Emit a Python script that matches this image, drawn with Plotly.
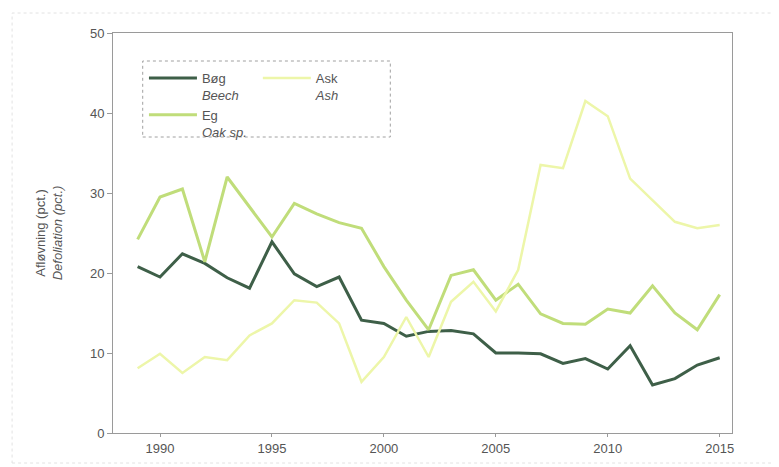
import plotly.graph_objects as go

years = list(range(1989, 2016))

bog = [20.8, 19.5, 22.4, 21.2, 19.4, 18.1, 23.9, 19.9, 18.3, 19.5, 14.1, 13.7, 12.1, 12.7,
       12.8, 12.4, 10.0, 10.0, 9.9, 8.7, 9.3, 8.0, 10.9, 6.0, 6.8, 8.5, 9.4]
eg = [24.2, 29.5, 30.5, 21.4, 32.0, 28.3, 24.5, 28.7, 27.4, 26.3, 25.6, 20.8, 16.6, 12.9,
      19.7, 20.4, 16.6, 18.6, 14.9, 13.7, 13.6, 15.5, 15.0, 18.4, 15.0, 12.9, 17.3]
ask = [8.1, 9.9, 7.5, 9.5, 9.1, 12.2, 13.7, 16.6, 16.3, 13.7, 6.4, 9.5, 14.5, 9.5,
       16.4, 18.9, 15.2, 20.4, 33.5, 33.1, 41.5, 39.6, 31.8, 29.1, 26.4, 25.6, 26.0]
aer = []  # no line drawn for Ær

x_ticks = [1990, 1995, 2000, 2005, 2010, 2015]
y_ticks = [0, 10, 20, 30, 40, 50]

font = "Liberation Sans, Arial, sans-serif"
grey = "#555555"

fig = go.Figure()
fig.add_trace(go.Scatter(x=years, y=bog, mode="lines", name="Bøg<br><i>Beech</i>",
                         line=dict(color="#3e5f48", width=3), legend="legend"))
fig.add_trace(go.Scatter(x=years, y=eg, mode="lines", name="Eg<br><i>Oak sp.</i>",
                         line=dict(color="#c0dd7a", width=3), legend="legend"))
fig.add_trace(go.Scatter(x=years, y=ask, mode="lines", name="Ask<br><i>Ash</i>",
                         line=dict(color="#edf6a9", width=2.5), legend="legend2"))
fig.add_trace(go.Scatter(x=aer, y=aer, mode="lines", name="Ær<br><i>Sycamore</i>",
                         line=dict(color="rgba(0,0,0,0)", width=2), legend="legend2"))

legend_style = dict(bgcolor="rgba(0,0,0,0)", borderwidth=0, valign="top", itemwidth=48,
                    font=dict(family=font, size=13, color=grey),
                    xanchor="left", yanchor="top")

# the page body adds an 8px offset, so margins are trimmed by that much
fig.update_layout(
    width=779, height=467,
    margin=dict(l=105, r=55, t=25, b=42),
    paper_bgcolor="white", plot_bgcolor="white",
    font=dict(family=font, size=13, color=grey),
    showlegend=True,
    legend=dict(x=0.05, y=0.925, **legend_style),
    legend2=dict(x=0.234, y=0.925, **legend_style),
    xaxis=dict(range=[1987.9, 2015.55], tickvals=x_ticks, showgrid=False, zeroline=False,
               showline=True, linecolor="#9a9a9a", linewidth=1, mirror=True,
               ticks="outside", ticklen=3, tickcolor="#9a9a9a",
               tickfont=dict(size=13, color=grey)),
    yaxis=dict(range=[0, 50], tickvals=y_ticks, showgrid=False, zeroline=False,
               showline=True, linecolor="#9a9a9a", linewidth=1, mirror=True,
               ticks="outside", ticklen=5, tickcolor="#9a9a9a",
               tickfont=dict(size=13, color=grey),
               title=dict(text="Afløvning (pct.)<br><i>Defoliation (pct.)</i>",
                          font=dict(size=13, color=grey), standoff=24)),
    shapes=[
        dict(type="rect", xref="paper", yref="paper", x0=0.048, x1=0.448, y0=0.74, y1=0.93,
             line=dict(color="#a0a0a0", width=1, dash="dot")),
        dict(type="rect", xref="paper", yref="paper", x0=-0.163, x1=1.07, y0=-0.075, y1=1.05,
             line=dict(color="#e2e2e2", width=1, dash="dot")),
    ],
)

fig.write_html("out.html")
